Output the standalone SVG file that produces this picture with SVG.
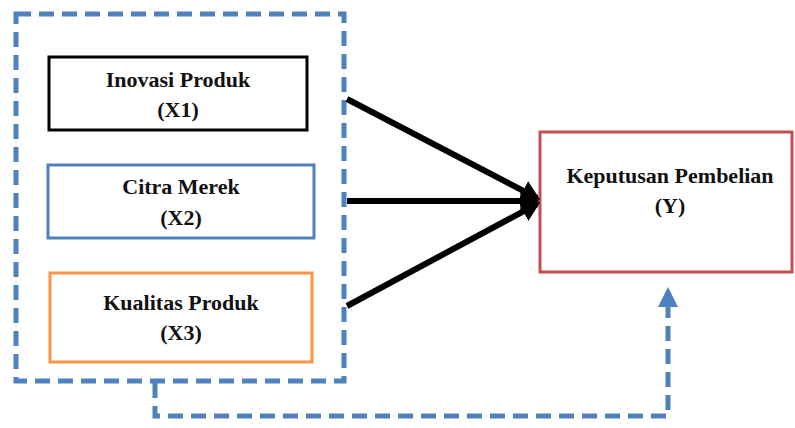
<svg xmlns="http://www.w3.org/2000/svg" width="795" height="428" viewBox="0 0 795 428">
  <style>
    .lbl { font-family: "Liberation Serif", "Times New Roman", serif; font-weight: bold; font-size: 22px; fill: #111; text-anchor: middle; }
    .dash { fill: none; stroke: #4f81bd; stroke-width: 5; stroke-dasharray: 15 8; }
    .box { fill: #fff; stroke-width: 3; }
    .arr { stroke: #000; stroke-width: 6; fill: none; marker-end: url(#head); }
  </style>
  <defs>
    <marker id="head" markerWidth="3.2" markerHeight="3.6" refX="2.6" refY="1.8" orient="auto" markerUnits="strokeWidth">
      <path d="M0,0 L3.2,1.8 L0,3.6 z" fill="#000"/>
    </marker>
    <marker id="headBlue" markerWidth="4" markerHeight="4" refX="3" refY="2" orient="auto" markerUnits="strokeWidth">
      <path d="M0,0 L4,2 L0,4 z" fill="#4f81bd"/>
    </marker>
  </defs>
  <rect width="795" height="428" fill="#fff"/>

  <!-- grouping frame around the independent variables -->
  <rect id="frame" class="dash" x="16" y="14" width="328" height="367"/>

  <g id="x1">
    <rect class="box" x="49" y="57" width="258" height="73" stroke="#000"/>
    <text class="lbl" x="178" y="87">Inovasi Produk</text>
    <text class="lbl" x="178" y="117">(X1)</text>
  </g>
  <g id="x2">
    <rect class="box" x="48" y="165" width="266" height="73" stroke="#4f81bd"/>
    <text class="lbl" x="181" y="194">Citra Merek</text>
    <text class="lbl" x="181" y="225">(X2)</text>
  </g>
  <g id="x3">
    <rect class="box" x="50" y="273" width="262" height="89" stroke="#f79646"/>
    <text class="lbl" x="181" y="310">Kualitas Produk</text>
    <text class="lbl" x="181" y="340">(X3)</text>
  </g>
  <g id="y">
    <rect class="box" x="540" y="132" width="252" height="140" stroke="#c0504d"/>
    <text class="lbl" x="670" y="183">Keputusan Pembelian</text>
    <text class="lbl" x="670" y="213">(Y)</text>
  </g>

  <g id="connectors">
    <line class="arr" x1="347" y1="99" x2="537" y2="198"/>
    <line class="arr" x1="347" y1="201" x2="536" y2="201"/>
    <line class="arr" x1="347" y1="306" x2="537" y2="204"/>
    <path class="dash" d="M155,383 V416 H668 V292" style="marker-end:url(#headBlue)"/>
  </g>
</svg>
